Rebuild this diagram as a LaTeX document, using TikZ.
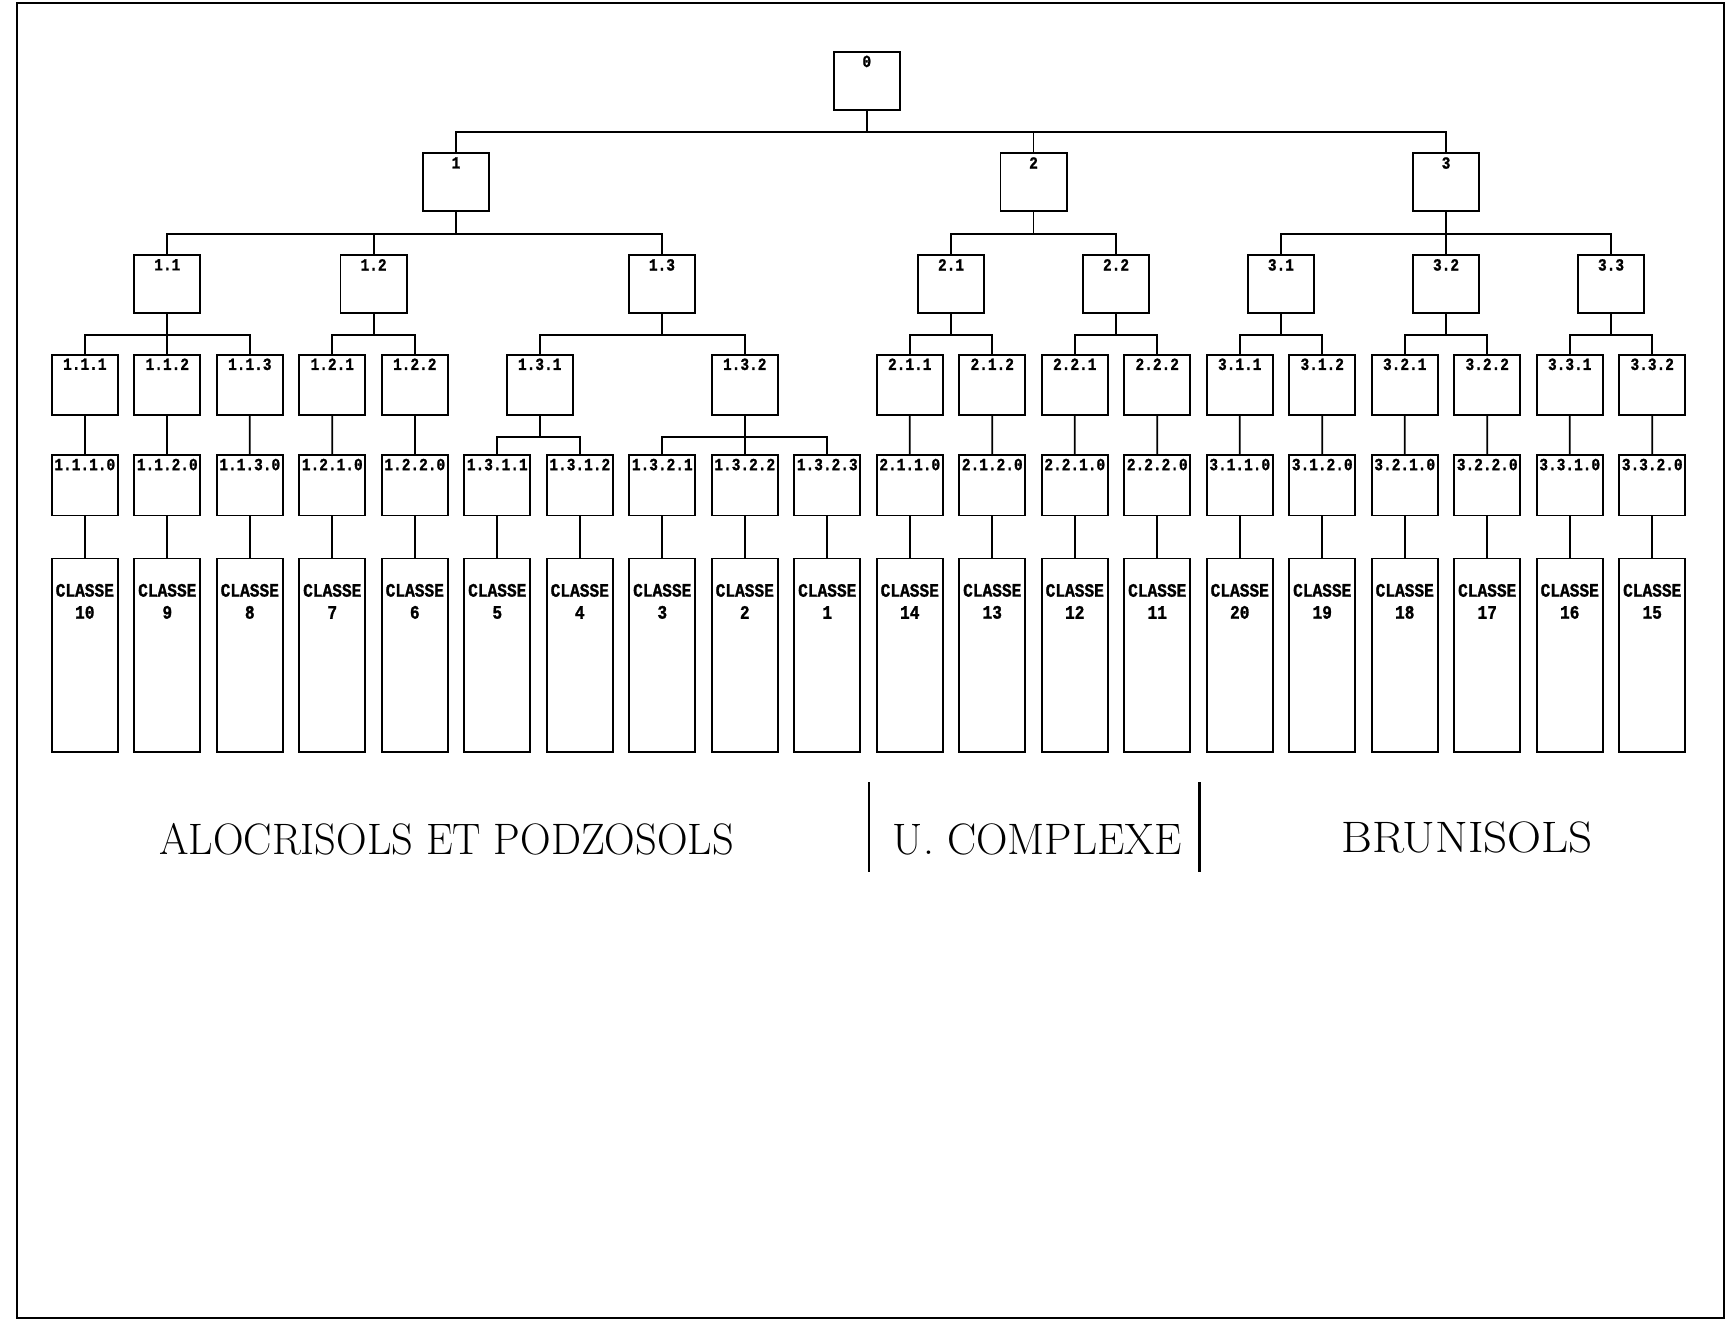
\documentclass[tikz,border=0pt]{standalone}
\usepackage{fontspec}
\newfontfamily\labfont{Liberation Mono}[FakeStretch=0.85,BoldFeatures={FakeBold=1.2}]
\newcommand\mybox[5]{\node[box,minimum height=#4pt,label={[lab,yshift=-2.2pt]north:#5}] (#1) at (#2,#3) {};}
\begin{document}
\begin{tikzpicture}[x=0.55pt,y=-0.55pt,
  box/.style={draw,line width=0.9pt,minimum width=33pt,inner sep=0pt},
  lab/.style={font=\labfont\bfseries\fontsize{8.5}{11}\selectfont,inner sep=0pt,anchor=north},
  clab/.style={font=\labfont\bfseries\fontsize{9.5}{11}\selectfont,inner sep=0pt,align=center},
  conn/.style={line width=0.9pt},
  big/.style={font=\fontsize{22}{26}\selectfont,inner sep=0pt}]
\useasboundingbox (0,0) rectangle (1568,1201);
\draw[line width=1pt] (15,3) rectangle (1565,1197);
% level 0-2
\mybox{n0}{787}{73.5}{29.2}{0}
\mybox{n1}{414}{165.5}{28.9}{1}
\mybox{n2}{938.4}{165.5}{28.9}{2}
\mybox{n3}{1312.9}{165.5}{28.9}{3}
\mybox{n11}{151.9}{258}{28.9}{1.1}
\mybox{n12}{339.2}{258}{28.9}{1.2}
\mybox{n13}{601}{258}{28.9}{1.3}
\mybox{n21}{863.5}{258}{28.9}{2.1}
\mybox{n22}{1013.3}{258}{28.9}{2.2}
\mybox{n31}{1163}{258}{28.9}{3.1}
\mybox{n32}{1312.9}{258}{28.9}{3.2}
\mybox{n33}{1462.7}{258}{28.9}{3.3}
% level 3
\mybox{n111}{77}{349.5}{30.25}{1.1.1}
\mybox{n112}{151.9}{349.5}{30.25}{1.1.2}
\mybox{n113}{226.8}{349.5}{30.25}{1.1.3}
\mybox{n121}{301.7}{349.5}{30.25}{1.2.1}
\mybox{n122}{376.6}{349.5}{30.25}{1.2.2}
\mybox{n131}{490}{349.5}{30.25}{1.3.1}
\mybox{n132}{676.2}{349.5}{30.25}{1.3.2}
\mybox{n211}{826}{349.5}{30.25}{2.1.1}
\mybox{n212}{900.9}{349.5}{30.25}{2.1.2}
\mybox{n221}{975.8}{349.5}{30.25}{2.2.1}
\mybox{n222}{1050.7}{349.5}{30.25}{2.2.2}
\mybox{n311}{1125.6}{349.5}{30.25}{3.1.1}
\mybox{n312}{1200.5}{349.5}{30.25}{3.1.2}
\mybox{n321}{1275.4}{349.5}{30.25}{3.2.1}
\mybox{n322}{1350.3}{349.5}{30.25}{3.2.2}
\mybox{n331}{1425.2}{349.5}{30.25}{3.3.1}
\mybox{n332}{1500.1}{349.5}{30.25}{3.3.2}
% level 4 and classes
\foreach \i/\lb/\num in {0/1.1.1.0/10,1/1.1.2.0/9,2/1.1.3.0/8,3/1.2.1.0/7,4/1.2.2.0/6,
  5/1.3.1.1/5,6/1.3.1.2/4,7/1.3.2.1/3,8/1.3.2.2/2,9/1.3.2.3/1,
  10/2.1.1.0/14,11/2.1.2.0/13,12/2.2.1.0/12,13/2.2.2.0/11,
  14/3.1.1.0/20,15/3.1.2.0/19,16/3.2.1.0/18,17/3.2.2.0/17,18/3.3.1.0/16,19/3.3.2.0/15}{
  \pgfmathsetmacro\cx{77+74.9*\i}
  \mybox{d\i}{\cx}{440.5}{30.25}{\lb}
  \node[box,minimum height=96.8pt] (k\i) at (\cx,595) {};
  \node[clab] (t\i) at (\cx,546) {CLASSE\\\num};
  \draw[conn] (d\i.south) -- (k\i.north);
}
% connectors
\foreach \c in {n1,n2,n3}{\draw[conn] (n0.south) -- ++(0,19) -| (\c.north);}
\foreach \c in {n11,n12,n13}{\draw[conn] (n1.south) -- ++(0,20) -| (\c.north);}
\foreach \c in {n21,n22}{\draw[conn] (n2.south) -- ++(0,20) -| (\c.north);}
\foreach \c in {n31,n32,n33}{\draw[conn] (n3.south) -- ++(0,20) -| (\c.north);}
\foreach \c in {n111,n112,n113}{\draw[conn] (n11.south) -- ++(0,19) -| (\c.north);}
\foreach \c in {n121,n122}{\draw[conn] (n12.south) -- ++(0,19) -| (\c.north);}
\foreach \c in {n131,n132}{\draw[conn] (n13.south) -- ++(0,19) -| (\c.north);}
\foreach \c in {n211,n212}{\draw[conn] (n21.south) -- ++(0,19) -| (\c.north);}
\foreach \c in {n221,n222}{\draw[conn] (n22.south) -- ++(0,19) -| (\c.north);}
\foreach \c in {n311,n312}{\draw[conn] (n31.south) -- ++(0,19) -| (\c.north);}
\foreach \c in {n321,n322}{\draw[conn] (n32.south) -- ++(0,19) -| (\c.north);}
\foreach \c in {n331,n332}{\draw[conn] (n33.south) -- ++(0,19) -| (\c.north);}
\foreach \p/\d in {n111/d0,n112/d1,n113/d2,n121/d3,n122/d4,n211/d10,n212/d11,n221/d12,n222/d13,
  n311/d14,n312/d15,n321/d16,n322/d17,n331/d18,n332/d19}{\draw[conn] (\p.south) -- (\d.north);}
\foreach \d in {d5,d6}{\draw[conn] (n131.south) -- ++(0,19) -| (\d.north);}
\foreach \d in {d7,d8,d9}{\draw[conn] (n132.south) -- ++(0,19) -| (\d.north);}
% bottom legends
\node[big] (g1) at (405.5,762) {\scalebox{0.963}[1]{ALOCRISOLS ET PODZOSOLS}};
\node[big] (g2) at (942,762) {\scalebox{0.99}[1]{U. COMPLEXE}};
\node[big] (g3) at (1332,760) {\scalebox{1.07}[1]{BRUNISOLS}};
\draw[line width=1.4pt] (789,710) -- (789,792);
\draw[line width=1.4pt] (1089,710) -- (1089,792);
\end{tikzpicture}
\end{document}
